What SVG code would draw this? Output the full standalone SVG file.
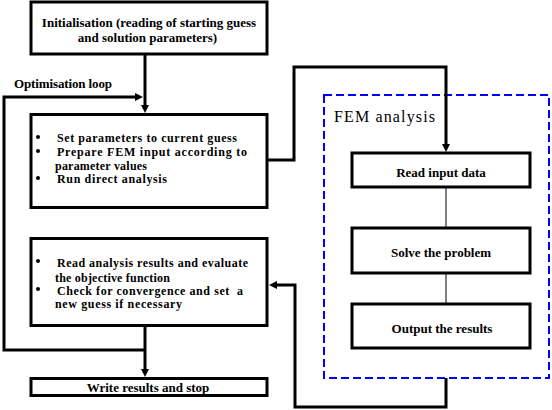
<svg xmlns="http://www.w3.org/2000/svg" width="552" height="410" viewBox="0 0 552 410">
<defs>
<style>
.box{fill:#fff;stroke:#000;stroke-width:3}
.t{font-family:"Liberation Serif","Times New Roman",serif;font-weight:bold;font-size:13px;fill:#000}
.s{font-size:12px}
.mid{text-anchor:middle}
.con{fill:none;stroke:#000;stroke-width:3}
.thin{fill:none;stroke:#000;stroke-width:1}
.fem{fill:none;stroke:#0000ff;stroke-width:2;stroke-dasharray:8 4}
</style>
<marker id="ah" viewBox="0 0 8 8" refX="2" refY="4" markerWidth="8" markerHeight="8" markerUnits="userSpaceOnUse" orient="auto">
<path d="M0,0 L8,4 L0,8 z" fill="#000"/>
</marker>
</defs>
<rect width="552" height="410" fill="#fff"/>
<g id="fem-group">
<rect class="fem" x="324" y="95" width="225" height="283"/>
<text x="334" y="122" font-family="Liberation Serif,Times New Roman,serif" font-size="16" textLength="101">FEM analysis</text>
</g>
<g id="connectors">
<path class="con" d="M145,55 V107" marker-end="url(#ah)"/>
<path class="con" d="M145,350 H4 V97 H137" marker-end="url(#ah)"/>
<path class="con" d="M145,327 V371" marker-end="url(#ah)"/>
<path class="con" d="M268,160 H294 V67 H446 V146" marker-end="url(#ah)"/>
<path class="con" d="M446,378 V407 H295 V285 H275" marker-end="url(#ah)"/>
<path class="thin" d="M446,188 V228"/>
<path class="thin" d="M446,274 V304"/>
<text class="t" x="14" y="88" textLength="98">Optimisation loop</text>
</g>
<g id="init">
<rect class="box" x="31" y="2" width="236" height="52"/>
<text class="t mid" x="149" y="27">Initialisation (reading of starting guess</text>
<text class="t mid" x="147.5" y="42">and solution parameters)</text>
</g>
<g id="setparams">
<rect class="box" x="31" y="114.5" width="236" height="93"/>
<circle cx="38" cy="137" r="2"/>
<circle cx="38" cy="151" r="2"/>
<circle cx="38" cy="178" r="2"/>
<text class="t s" x="57" y="142" textLength="180">Set parameters to current guess</text>
<text class="t s" x="57" y="156" textLength="190">Prepare FEM input according to</text>
<text class="t s" x="55" y="170" textLength="92">parameter values</text>
<text class="t s" x="57" y="183" textLength="110">Run direct analysis</text>
</g>
<g id="evaluate">
<rect class="box" x="31" y="238.5" width="236" height="87"/>
<circle cx="38" cy="261" r="2"/>
<circle cx="38" cy="289" r="2"/>
<text class="t s" x="57" y="267" textLength="191">Read analysis results and evaluate</text>
<text class="t s" x="55" y="282" textLength="115">the objective function</text>
<text class="t s" x="57" y="295" textLength="186" xml:space="preserve">Check for convergence and set  a</text>
<text class="t s" x="55" y="308" textLength="127">new guess if necessary</text>
</g>
<g id="write">
<rect class="box" x="31" y="378.5" width="236" height="17"/>
<text class="t mid" x="148" y="392">Write results and stop</text>
</g>
<g id="read-input">
<rect class="box" x="352" y="153" width="178" height="34"/>
<text class="t mid" x="441" y="177">Read input data</text>
</g>
<g id="solve">
<rect class="box" x="352" y="228" width="178" height="45"/>
<text class="t mid" x="441" y="257">Solve the problem</text>
</g>
<g id="output">
<rect class="box" x="352" y="304" width="178" height="44"/>
<text class="t mid" x="442" y="333">Output the results</text>
</g>
</svg>
